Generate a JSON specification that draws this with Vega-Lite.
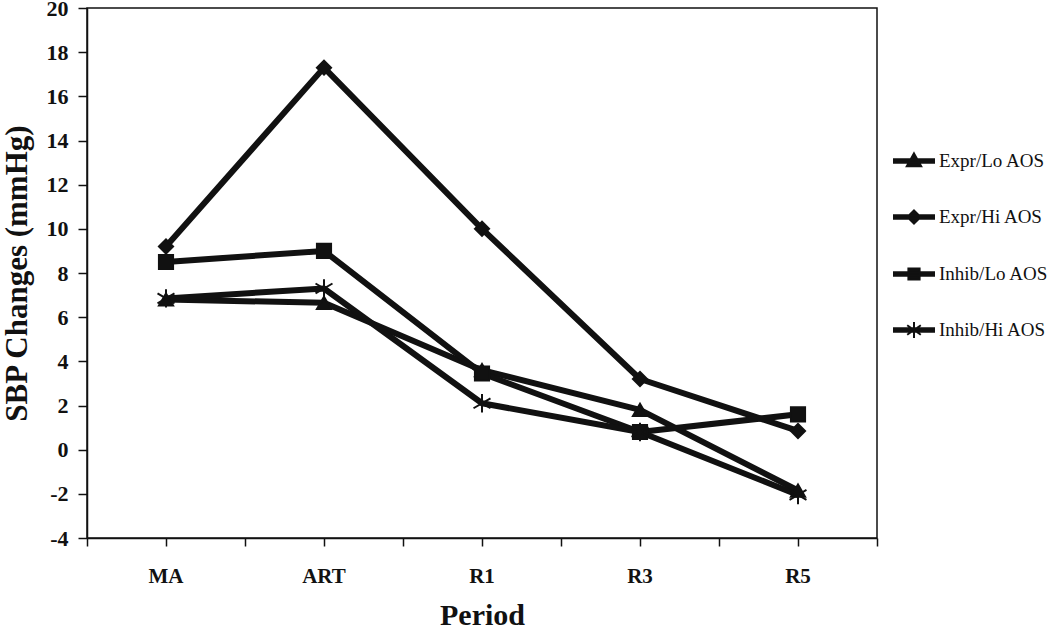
{
  "$schema": "https://vega.github.io/schema/vega-lite/v6.json",
  "width": 790,
  "height": 530,
  "autosize": {"type": "none"},
  "padding": {"left": 87, "top": 8, "right": 173, "bottom": 96},
  "background": "white",
  "config": {
    "font": "Liberation Serif",
    "view": {"stroke": "#111", "strokeWidth": 1.5},
    "axis": {
      "domainColor": "#111", "tickColor": "#111", "domainWidth": 1.5, "tickWidth": 1.5,
      "labelColor": "#111", "titleColor": "#111", "grid": false,
      "labelFont": "Liberation Serif", "titleFont": "Liberation Serif",
      "labelFontWeight": "bold", "titleFontWeight": "bold"
    }
  },
  "data": {
    "values": [
      {"period": "MA", "group": "Expr/Lo AOS", "sbp": 6.8},
      {"period": "ART", "group": "Expr/Lo AOS", "sbp": 6.65},
      {"period": "R1", "group": "Expr/Lo AOS", "sbp": 3.6},
      {"period": "R3", "group": "Expr/Lo AOS", "sbp": 1.8},
      {"period": "R5", "group": "Expr/Lo AOS", "sbp": -1.85},
      {"period": "MA", "group": "Expr/Hi AOS", "sbp": 9.2},
      {"period": "ART", "group": "Expr/Hi AOS", "sbp": 17.3},
      {"period": "R1", "group": "Expr/Hi AOS", "sbp": 10.0},
      {"period": "R3", "group": "Expr/Hi AOS", "sbp": 3.2},
      {"period": "R5", "group": "Expr/Hi AOS", "sbp": 0.85},
      {"period": "MA", "group": "Inhib/Lo AOS", "sbp": 8.5},
      {"period": "ART", "group": "Inhib/Lo AOS", "sbp": 9.0},
      {"period": "R1", "group": "Inhib/Lo AOS", "sbp": 3.45},
      {"period": "R3", "group": "Inhib/Lo AOS", "sbp": 0.8},
      {"period": "R5", "group": "Inhib/Lo AOS", "sbp": 1.6},
      {"period": "MA", "group": "Inhib/Hi AOS", "sbp": 6.85},
      {"period": "ART", "group": "Inhib/Hi AOS", "sbp": 7.3},
      {"period": "R1", "group": "Inhib/Hi AOS", "sbp": 2.1},
      {"period": "R3", "group": "Inhib/Hi AOS", "sbp": 0.8},
      {"period": "R5", "group": "Inhib/Hi AOS", "sbp": -2.05}
    ]
  },
  "layer": [
    {
      "mark": {"type": "line", "strokeWidth": 6, "strokeJoin": "round"},
      "encoding": {
        "x": {
          "field": "period", "type": "nominal",
          "sort": ["MA", "ART", "R1", "R3", "R5"],
          "scale": {"type": "band", "domain": ["MA", "ART", "R1", "R3", "R5"], "paddingInner": 0, "paddingOuter": 0},
          "axis": {"orient": "bottom", "tickBand": "extent", "labels": false, "domain": false, "title": null, "tickSize": 8}
        },
        "y": {
          "field": "sbp", "type": "quantitative",
          "scale": {"domain": [-4, 20], "nice": false, "zero": false},
          "axis": {
            "title": "SBP Changes (mmHg)",
            "values": [-4, -2, 0, 2, 4, 6, 8, 10, 12, 14, 16, 18, 20],
            "labelExpr": "'' + datum.value",
            "tickSize": 9, "labelPadding": 10, "labelFontSize": 22,
            "titleFontSize": 31, "titlePadding": 13
          }
        },
        "color": {
          "field": "group", "type": "nominal",
          "scale": {
            "domain": ["Expr/Lo AOS", "Expr/Hi AOS", "Inhib/Lo AOS", "Inhib/Hi AOS"],
            "range": ["#111111", "#111111", "#111111", "#111111"]
          },
          "legend": {
            "title": null,
            "orient": "none",
            "legendX": 806,
            "legendY": 132,
            "padding": 0,
            "symbolSize": 1600,
            "symbolStrokeWidth": 2,
            "labelFont": "Liberation Serif",
            "labelFontSize": 19,
            "labelColor": "#111",
            "labelOffset": 4,
            "rowPadding": 25,
            "encode": {
              "symbols": {
                "update": {
                  "shape": {"signal": "datum.value === 'Expr/Lo AOS' ? 'M-1,-0.09H1V0.09H-1Z M0,-0.38L0.36,0.26L-0.36,0.26Z' : datum.value === 'Expr/Hi AOS' ? 'M-1,-0.09H1V0.09H-1Z M0,-0.33L0.33,0L0,0.33L-0.33,0Z' : datum.value === 'Inhib/Lo AOS' ? 'M-1,-0.09H1V0.09H-1Z M-0.28,-0.28H0.28V0.28H-0.28Z' : 'M-1,-0.09H1V0.09H-1Z M0,-0.4V0.4M-0.34,-0.24L0.34,0.24M-0.34,0.24L0.34,-0.24'"},
                  "fill": {"value": "#111111"},
                  "strokeWidth": {"value": 2},
                  "opacity": {"value": 1}
                }
              }
            }
          }
        }
      }
    },
    {
      "mark": {"type": "point", "filled": true, "fill": "#111", "stroke": "#111", "strokeWidth": 2, "opacity": 1},
      "encoding": {
        "x": {
          "field": "period", "type": "nominal",
          "sort": ["MA", "ART", "R1", "R3", "R5"],
          "scale": {"type": "band", "domain": ["MA", "ART", "R1", "R3", "R5"], "paddingInner": 0, "paddingOuter": 0},
          "axis": {
            "orient": "bottom", "title": "Period", "labelAngle": 0, "tickSize": 8,
            "labelPadding": 19, "labelFontSize": 21, "titleFontSize": 30, "titlePadding": 14
          }
        },
        "y": {"field": "sbp", "type": "quantitative", "scale": {"domain": [-4, 20], "nice": false, "zero": false}},
        "shape": {
          "field": "group", "type": "nominal",
          "scale": {
            "domain": ["Inhib/Hi AOS", "Inhib/Lo AOS", "Expr/Hi AOS", "Expr/Lo AOS"],
            "range": ["M0,-1.3V1.3M-1.2,-0.7L1.2,0.7M-1.2,0.7L1.2,-0.7", "square", "diamond", "triangle-up"]
          },
          "legend": null
        },
        "size": {"value": 200}
      }
    }
  ],
  "resolve": {"axis": {"x": "independent"}}
}
